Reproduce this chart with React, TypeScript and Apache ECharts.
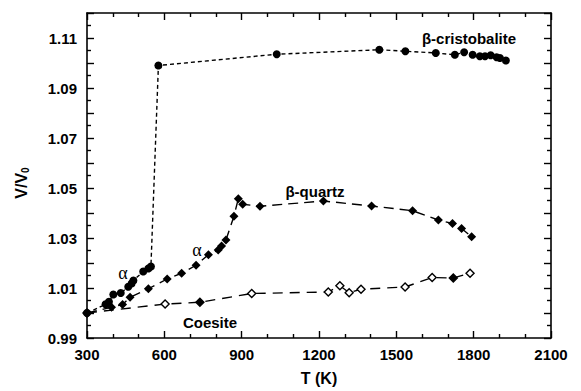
import React, { useEffect, useRef } from "react";
import * as echarts from "echarts";

// beta-cristobalite / alpha-cristobalite (filled circles, short dashes)
const cristobaliteT = [300, 372, 385, 402, 431, 460, 473, 480, 518, 538, 548, 577, 1036, 1434, 1535, 1653, 1727, 1763, 1796, 1824, 1844, 1866, 1889, 1902, 1925];
const cristobaliteV = [1.0, 1.0035, 1.0045, 1.0074, 1.008, 1.0105, 1.0118, 1.013, 1.0166, 1.0178, 1.0186, 1.099, 1.1035, 1.1053, 1.1047, 1.104, 1.1033, 1.1043, 1.1033, 1.1027, 1.1027, 1.1031, 1.1023, 1.102, 1.101];

// quartz (filled diamonds, long dashes)
const quartzT = [300, 395, 438, 467, 538, 611, 667, 723, 771, 809, 822, 839, 870, 887, 904, 971, 1217, 1404, 1563, 1663, 1718, 1753, 1792];
const quartzV = [1.0, 1.0023, 1.0034, 1.0063, 1.0097, 1.0136, 1.0159, 1.0191, 1.0233, 1.0252, 1.0268, 1.0292, 1.0387, 1.0457, 1.0435, 1.0427, 1.0448, 1.0428, 1.0409, 1.0372, 1.0358, 1.0338, 1.0305];

// coesite (open diamonds, long dashes); filled flags for the two solid symbols
const coesiteT = [300, 603, 738, 939, 1236, 1281, 1317, 1363, 1534, 1639, 1721, 1786];
const coesiteV = [1.0, 1.0036, 1.0043, 1.0078, 1.0084, 1.0109, 1.0081, 1.0095, 1.0104, 1.0142, 1.014, 1.0159];
const coesiteFilled = [true, false, true, false, false, false, false, false, false, false, true, false];

const xTicks = { min: 300, max: 2100, interval: 300 };
const yTicks = { min: 0.99, max: 1.12, interval: 0.01 };

const FONT = "Liberation Sans";

export default function App() {
  const ref = useRef<HTMLDivElement>(null);
  useEffect(() => {
    if (!ref.current) return;
    const chart = echarts.init(ref.current, undefined, { renderer: "svg" });
    const axisLine = { show: true, onZero: false, lineStyle: { color: "#000", width: 1.6 } };
    const tick = { show: true, inside: true, length: 7, interval: 0, lineStyle: { color: "#000", width: 1.4 } };
    const minor = (n: number) => ({ show: true, splitNumber: n, length: 4, lineStyle: { color: "#000", width: 1.4 } });
    const labelStyle = { fontFamily: FONT, fontWeight: "bold" as const, fontSize: 15, color: "#000" };

    const yFormatter = (v: number) => {
      const k = Math.round((v - 0.99) * 100);
      return k % 2 === 0 ? v.toFixed(2) : "";
    };
    const xFormatter = (v: number) => String(Math.round(v));

    chart.setOption({
      animation: false,
      backgroundColor: "#fff",
      grid: { left: 87, right: 30, top: 13, bottom: 49, containLabel: false },
      xAxis: [
        {
          type: "value", ...xTicks, position: "bottom",
          axisLine, axisTick: tick, minorTick: minor(3),
          splitLine: { show: false },
          axisLabel: { ...labelStyle, margin: 9, formatter: xFormatter },
          name: "T (K)", nameLocation: "middle", nameGap: 32,
          nameTextStyle: { fontFamily: FONT, fontWeight: "bold", fontSize: 16, color: "#000" },
        },
        {
          type: "value", ...xTicks, position: "top",
          axisLine, axisTick: tick, minorTick: minor(3),
          splitLine: { show: false }, axisLabel: { show: false },
        },
      ],
      yAxis: [
        {
          type: "value", ...yTicks, position: "left",
          axisLine, axisTick: tick, minorTick: minor(2),
          splitLine: { show: false },
          axisLabel: { ...labelStyle, margin: 10, formatter: yFormatter },
        },
        {
          type: "value", ...yTicks, position: "right",
          axisLine, axisTick: tick, minorTick: minor(2),
          splitLine: { show: false }, axisLabel: { show: false },
        },
      ],
      graphic: [
        {
          type: "text", x: 21, y: 183, rotation: Math.PI / 2,
          style: {
            text: "{a|V/V}{b|0}",
            align: "center", verticalAlign: "middle",
            rich: {
              a: { fontFamily: FONT, fontWeight: "bold", fontSize: 16, fill: "#000", lineHeight: 18 },
              b: { fontFamily: FONT, fontWeight: "bold", fontSize: 10, fill: "#000", padding: [9, 0, 0, 0] },
            },
          },
        },
        { type: "text", x: 469, y: 38, style: { text: "β-cristobalite", fontFamily: FONT, fontWeight: "bold", fontSize: 15, fill: "#000", align: "center", verticalAlign: "middle" } },
        { type: "text", x: 315, y: 191, style: { text: "β-quartz", fontFamily: FONT, fontWeight: "bold", fontSize: 15, fill: "#000", align: "center", verticalAlign: "middle" } },
        { type: "text", x: 210, y: 322, style: { text: "Coesite", fontFamily: FONT, fontWeight: "bold", fontSize: 15, fill: "#000", align: "center", verticalAlign: "middle" } },
        { type: "text", x: 123, y: 273, style: { text: "α", fontFamily: "Liberation Serif", fontSize: 18, fill: "#000", align: "center", verticalAlign: "middle" } },
        { type: "text", x: 197, y: 250, style: { text: "α", fontFamily: "Liberation Serif", fontSize: 18, fill: "#000", align: "center", verticalAlign: "middle" } },
      ],
      series: [
        {
          name: "cristobalite", type: "line", xAxisIndex: 0, yAxisIndex: 0,
          data: cristobaliteT.map((t, i) => [t, cristobaliteV[i]]),
          symbol: "circle", symbolSize: 8,
          itemStyle: { color: "#000" },
          lineStyle: { color: "#000", width: 1.4, type: [4, 3] },
        },
        {
          name: "quartz", type: "line", xAxisIndex: 0, yAxisIndex: 0,
          data: quartzT.map((t, i) => [t, quartzV[i]]),
          symbol: "diamond", symbolSize: 9,
          itemStyle: { color: "#000" },
          lineStyle: { color: "#000", width: 1.4, type: [10, 6] },
        },
        {
          name: "coesite", type: "line", xAxisIndex: 0, yAxisIndex: 0,
          data: coesiteT.map((t, i) => ({
            value: [t, coesiteV[i]],
            itemStyle: { color: coesiteFilled[i] ? "#000" : "#fff", borderColor: "#000", borderWidth: 1.4 },
          })),
          symbol: "diamond", symbolSize: 8,
          lineStyle: { color: "#000", width: 1.4, type: [10, 7] },
        },
      ],
    });
    return () => chart.dispose();
  }, []);
  return <div ref={ref} style={{ position: "fixed", left: 0, top: 0, width: 581, height: 391 }} />;
}
